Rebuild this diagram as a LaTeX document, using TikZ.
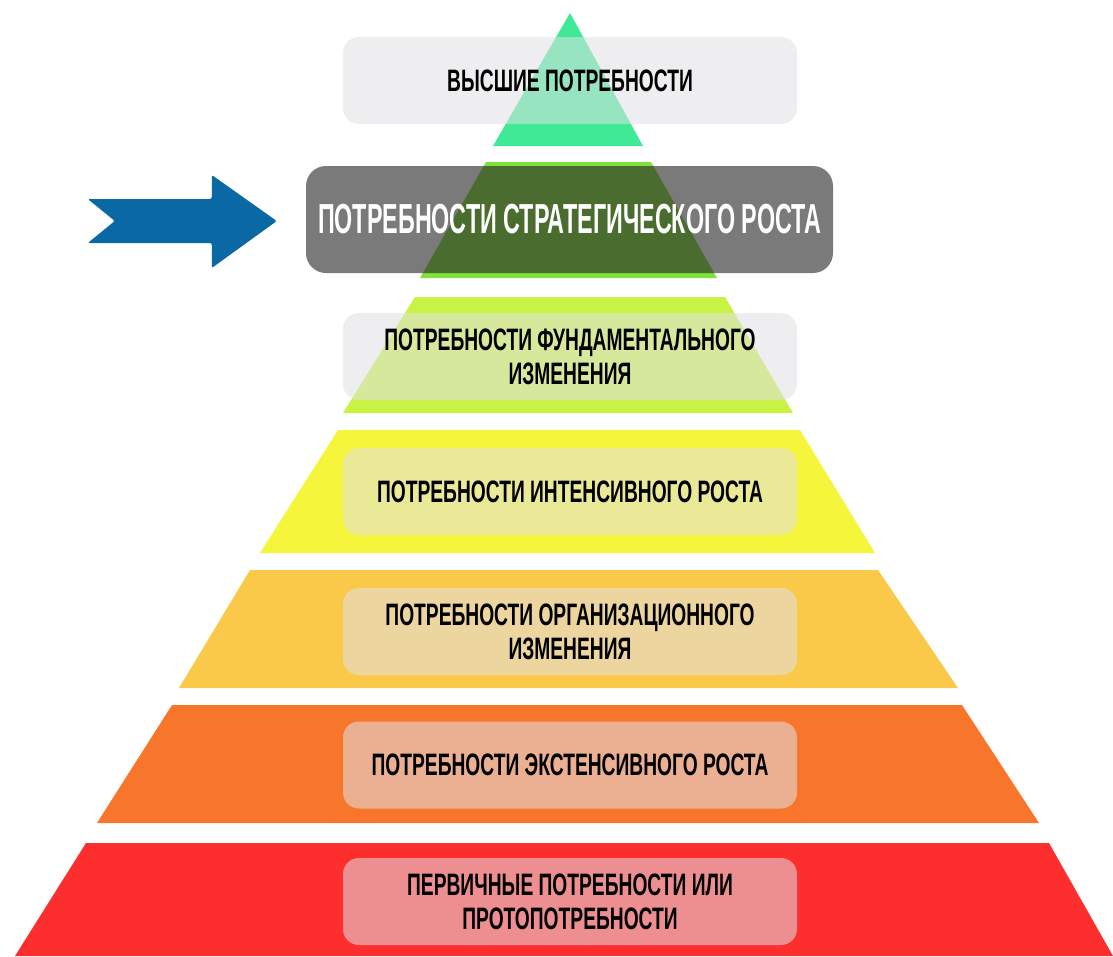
\documentclass[tikz,border=0pt]{standalone}
\usepackage{fontspec}
\newfontfamily\condfont[FakeStretch=0.62]{Liberation Sans}
\newfontfamily\narrowfont[FakeStretch=0.555]{Liberation Sans}
\usetikzlibrary{positioning}
\usetikzlibrary{calc}

\definecolor{tierA}{HTML}{40E996}
\definecolor{tierB}{HTML}{82E03C}
\definecolor{tierC}{HTML}{C8F244}
\definecolor{tierD}{HTML}{F5F53C}
\definecolor{tierE}{HTML}{FBC94A}
\definecolor{tierF}{HTML}{F8762C}
\definecolor{tierG}{HTML}{FD2E2E}
\definecolor{boxgray}{HTML}{E0E0E4}
\definecolor{darkbox}{HTML}{282828}
\definecolor{arrowblue}{HTML}{0A69A5}

\begin{document}
\begin{tikzpicture}[x=1pt,y=-1pt,
					font=\condfont\bfseries\fontsize{31}{34}\selectfont]
					\tikzstyle{need}=[rounded corners=16pt,fill=boxgray,fill opacity=0.55,
					text opacity=1,minimum width=454pt,minimum height=87pt,
					align=center,inner sep=0pt]
					\tikzstyle{focus}=[need,fill=darkbox,fill opacity=0.62,text=white,
					rounded corners=20pt,minimum width=527pt,minimum height=107pt,
					font=\narrowfont\bfseries\fontsize{42}{46}\selectfont]
					
					\useasboundingbox (0,0) rectangle (1113,956);
					
					% pyramid tiers
					\fill[tierA] (570,13) -- (643,146) -- (493,146) -- cycle;
					\fill[tierB] (486,162) -- (651,162) -- (717,278) -- (420,278) -- cycle;
					\fill[tierC] (415,297) -- (725,297) -- (793,413) -- (343,413) -- cycle;
					\fill[tierD] (338,430) -- (800,430) -- (875,553) -- (260,553) -- cycle;
					\fill[tierE] (250,570) -- (878,570) -- (958,688) -- (179,688) -- cycle;
					\fill[tierF] (172,705) -- (962,705) -- (1039,823) -- (97,823) -- cycle;
					\fill[tierG] (86,843) -- (1049,843) -- (1113,956) -- (15,956) -- cycle;
					
					\node[need]  (N_1) at (570,80.5)  {ВЫСШИЕ ПОТРЕБНОСТИ};
					\node[focus] (N_2) at (569.5,219.5) {ПОТРЕБНОСТИ СТРАТЕГИЧЕСКОГО РОСТА};
					\node[need]  (N_3) at (570,356.5) {ПОТРЕБНОСТИ ФУНДАМЕНТАЛЬНОГО\\ИЗМЕНЕНИЯ};
					\node[need]  (N_4) at (570,491.5) {ПОТРЕБНОСТИ ИНТЕНСИВНОГО РОСТА};
					\node[need]  (N_5) at (570,631.5) {ПОТРЕБНОСТИ ОРГАНИЗАЦИОННОГО\\ИЗМЕНЕНИЯ};
					\node[need]  (N_6) at (570,765)   {ПОТРЕБНОСТИ ЭКСТЕНСИВНОГО РОСТА};
					\node[need]  (N_7) at (570,901.5) {ПЕРВИЧНЫЕ ПОТРЕБНОСТИ ИЛИ\\ПРОТОПОТРЕБНОСТИ};
					
					% pointer to the current tier
					\coordinate (tip) at ($(N_2.west)+(-29,1.5)$);
					\fill[arrowblue,rounded corners=2pt] (tip) -- ++(-65,-46) -- ++(0,24)
					-- ++(-124,0) -- ++(27,22) -- ++(-27,22) -- ++(124,0)
					-- ++(0,25) -- cycle;
					
					\end{tikzpicture}
\end{document}
